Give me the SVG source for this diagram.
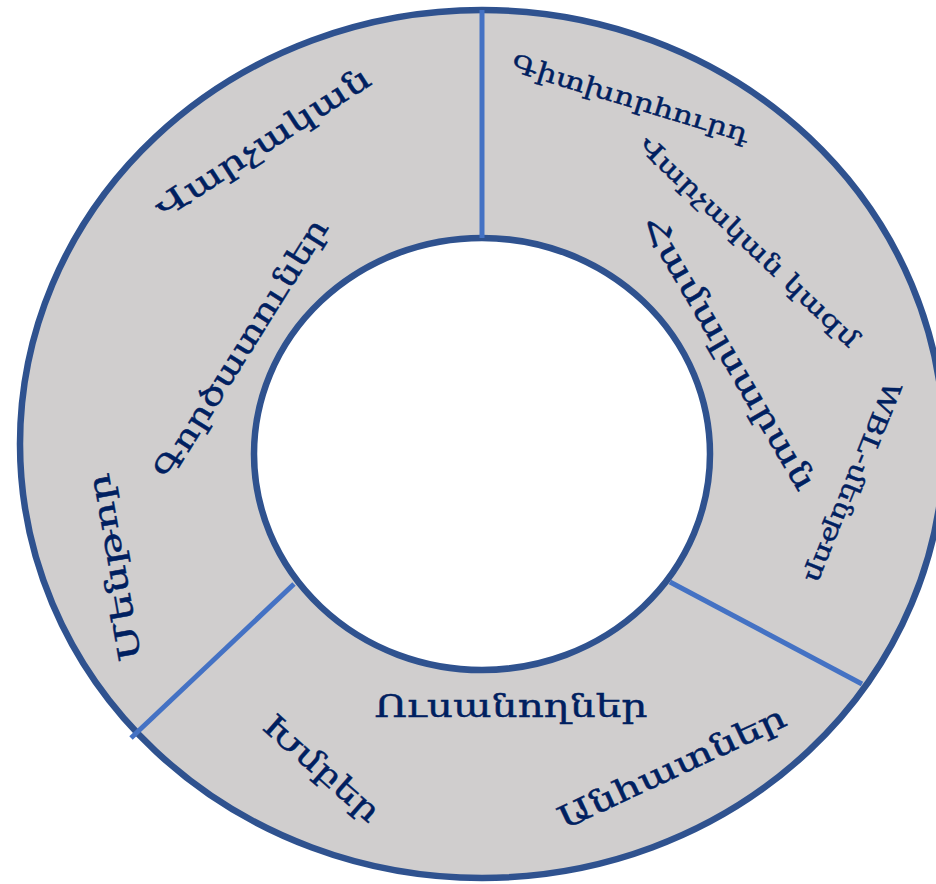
<svg xmlns="http://www.w3.org/2000/svg" width="936" height="884" viewBox="0 0 936 884">
<style>
.ring{fill:#D0CECE;stroke:#2F528F;stroke-width:6.5}
.hole{fill:#FFFFFF;stroke:#2F528F;stroke-width:6.5}
.div{stroke:#4472C4;stroke-width:5;fill:none}
.t{font-family:"DejaVu Serif","Noto Sans",serif;fill:#002060;text-anchor:middle;stroke:#002060;stroke-width:0.4}
.b{font-size:31px}
.s{font-size:25px}
</style>
<rect width="936" height="884" fill="#FFFFFF"/>
<g id="ring"><ellipse class="ring" cx="482" cy="444" rx="462" ry="434"/></g>
<g id="center"><ellipse class="hole" cx="482" cy="454" rx="228" ry="216"/></g>
<g id="connectors">
<line class="div" x1="482" y1="10" x2="482" y2="238"/>
<line class="div" x1="670" y1="582" x2="862" y2="684"/>
<line class="div" x1="294" y1="584" x2="131" y2="738"/>
</g>
<g id="employers">
<text class="t b" transform="translate(264,145) rotate(-33)" y="8" textLength="250" lengthAdjust="spacingAndGlyphs">Վարչական</text>
<text class="t b" transform="translate(243,350) rotate(-58)" y="8" textLength="300" lengthAdjust="spacingAndGlyphs">Գործատուներ</text>
<text class="t b" transform="translate(117,567) rotate(-100)" y="8" textLength="190" lengthAdjust="spacingAndGlyphs">Մենթոր</text>
</g>
<g id="university">
<text class="t s" transform="translate(630,100) rotate(17)" y="7" textLength="247" lengthAdjust="spacingAndGlyphs">Գիտխորհուրդ</text>
<text class="t s" transform="translate(748,243) rotate(43.5)" y="7" textLength="293" lengthAdjust="spacingAndGlyphs">Վարչական կազմ</text>
<text class="t b" transform="translate(727,354) rotate(59.7)" y="8" textLength="312" lengthAdjust="spacingAndGlyphs">Համալսարան</text>
<text class="t s" transform="translate(852,482) rotate(112)" y="7" textLength="215" lengthAdjust="spacingAndGlyphs">WBL-մենթոր</text>
</g>
<g id="students">
<text class="t b" x="511" y="717" textLength="273" lengthAdjust="spacingAndGlyphs">Ուսանողներ</text>
<text class="t b" transform="translate(320,770) rotate(41.4)" y="8" textLength="145" lengthAdjust="spacingAndGlyphs">Խմբեր</text>
<text class="t b" transform="translate(673,770) rotate(-25)" y="8" textLength="248" lengthAdjust="spacingAndGlyphs">Անհատներ</text>
</g>
</svg>
